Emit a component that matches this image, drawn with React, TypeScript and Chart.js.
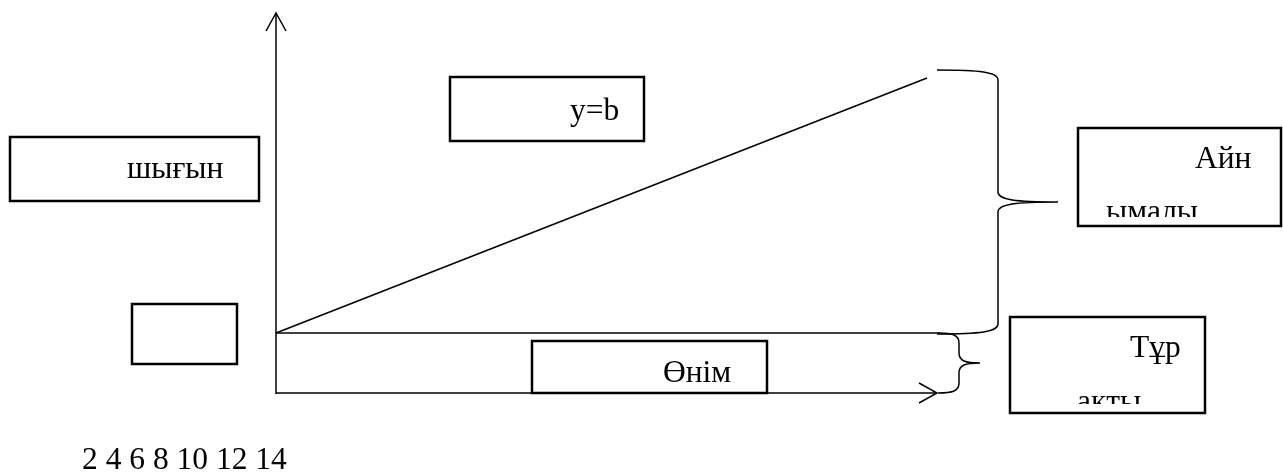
import React, { useEffect, useRef } from "react";
import { Chart, registerables } from "chart.js";

Chart.register(...registerables);

// Diagram geometry in canvas units (x: 0..1283 left→right, y: 0..473 top→bottom)
const yAxisLine = [{ x: 276, y: 394 }, { x: 276, y: 13 }];
const yAxisArrow = [{ x: 266, y: 31 }, { x: 276, y: 13 }, { x: 286, y: 31 }];
const xAxisLine = [{ x: 276, y: 393 }, { x: 937, y: 393 }];
const xAxisArrow = [{ x: 919, y: 383 }, { x: 937, y: 393 }, { x: 919, y: 403 }];
const fixedCostLine = [{ x: 276, y: 333 }, { x: 940, y: 333 }];
const variableCostLine = [{ x: 276, y: 333 }, { x: 927, y: 78 }];

// braces: start x, spine x, top y, tip y, bottom y, tip x
const braceStartX = [937, 938];
const braceSpineX = [998, 959];
const braceTopY = [70, 333];
const braceTipY = [202, 363];
const braceBottomY = [334, 393];
const braceTipX = [1058, 980];

// label boxes
const boxLeft = [10, 450, 1078, 1010, 132, 532];
const boxTop = [137, 77, 128, 317, 304, 341];
const boxRight = [259, 644, 1281, 1205, 237, 767];
const boxBottom = [201, 141, 226, 413, 364, 393];

// texts in the boxes (clipped to box interior)
const labelTexts = ["шығын", "y=b", "Айн", "ымалы", "Тұр", "ақты", "Өнім"];
const labelBox = [0, 1, 2, 2, 3, 3, 5];
const labelX = [127, 570, 1195, 1106, 1130, 1077, 663];
const labelY = [178, 120, 168, 221, 357, 411, 382];

// free text under the chart
const scaleText = "2 4 6 8 10 12 14";
const scaleTextX = 82;
const scaleTextY = 469;

const FONT = '31.5px "Liberation Serif", "Times New Roman", serif';

const diagramPlugin = {
  id: "diagram",
  afterDatasetsDraw(chart: any) {
    const ctx = chart.ctx as CanvasRenderingContext2D;
    const xs = chart.scales.x;
    const ys = chart.scales.y;
    const px = (v: number) => xs.getPixelForValue(v);
    const py = (v: number) => ys.getPixelForValue(v);

    // braces
    ctx.save();
    ctx.strokeStyle = "#000";
    ctx.lineWidth = 1.5;
    for (let i = 0; i < braceStartX.length; i++) {
      const sx = px(braceStartX[i]);
      const spx = px(braceSpineX[i]);
      const tx = px(braceTipX[i]);
      const top = py(braceTopY[i]);
      const tip = py(braceTipY[i]);
      const bot = py(braceBottomY[i]);
      const r = Math.min(10, (tip - top) / 3);
      ctx.beginPath();
      ctx.moveTo(sx, top);
      ctx.bezierCurveTo(sx + (spx - sx) * 0.7, top, spx, top + r * 0.2, spx, top + r);
      ctx.lineTo(spx, tip - r);
      ctx.bezierCurveTo(spx, tip - r * 0.2, spx + (tx - spx) * 0.3, tip, tx, tip);
      ctx.moveTo(tx, tip);
      ctx.bezierCurveTo(spx + (tx - spx) * 0.3, tip, spx, tip + r * 0.2, spx, tip + r);
      ctx.lineTo(spx, bot - r);
      ctx.bezierCurveTo(spx, bot - r * 0.2, sx + (spx - sx) * 0.7, bot, sx, bot);
      ctx.stroke();
    }
    ctx.restore();

    // boxes
    ctx.save();
    for (let i = 0; i < boxLeft.length; i++) {
      const l = px(boxLeft[i]);
      const t = py(boxTop[i]);
      const w = px(boxRight[i]) - l;
      const h = py(boxBottom[i]) - t;
      ctx.fillStyle = "#fff";
      ctx.fillRect(l, t, w, h);
      ctx.strokeStyle = "#000";
      ctx.lineWidth = 2.5;
      ctx.strokeRect(l, t, w, h);
    }
    ctx.restore();

    // box labels
    for (let i = 0; i < labelTexts.length; i++) {
      const b = labelBox[i];
      const l = px(boxLeft[b]);
      const t = py(boxTop[b]);
      const w = px(boxRight[b]) - l;
      const h = py(boxBottom[b]) - t;
      ctx.save();
      ctx.beginPath();
      ctx.rect(l + 2, t + 2, w - 4, h - 11);
      ctx.clip();
      ctx.fillStyle = "#000";
      ctx.font = FONT;
      ctx.textBaseline = "alphabetic";
      ctx.textAlign = "left";
      ctx.fillText(labelTexts[i], px(labelX[i]), py(labelY[i]));
      ctx.restore();
    }

    // bottom text
    ctx.save();
    ctx.fillStyle = "#000";
    ctx.font = FONT;
    ctx.textBaseline = "alphabetic";
    ctx.fillText(scaleText, px(scaleTextX), py(scaleTextY));
    ctx.restore();
  },
};

function lineDs(data: { x: number; y: number }[]) {
  return {
    data,
    borderColor: "#000",
    borderWidth: 1.5,
    pointRadius: 0,
    fill: false,
    tension: 0,
    showLine: true,
  };
}

export default function App() {
  const ref = useRef<HTMLCanvasElement | null>(null);

  useEffect(() => {
    if (!ref.current) return;
    const chart = new Chart(ref.current, {
      type: "scatter",
      data: {
        datasets: [
          lineDs(yAxisLine),
          lineDs(yAxisArrow),
          lineDs(xAxisLine),
          lineDs(xAxisArrow),
          lineDs(fixedCostLine),
          lineDs(variableCostLine),
        ] as any,
      },
      options: {
        animation: false,
        responsive: true,
        maintainAspectRatio: false,
        layout: { padding: 0 },
        plugins: { legend: { display: false }, tooltip: { enabled: false } },
        scales: {
          x: { type: "linear", min: 0, max: 1283, display: false },
          y: { type: "linear", min: 0, max: 473, reverse: true, display: false },
        },
      },
      plugins: [diagramPlugin],
    });
    return () => chart.destroy();
  }, []);

  return (
    <div
      style={{
        position: "absolute",
        left: 0,
        top: 0,
        width: 1283,
        height: 473,
        background: "#fff",
      }}
    >
      <canvas ref={ref} />
    </div>
  );
}
